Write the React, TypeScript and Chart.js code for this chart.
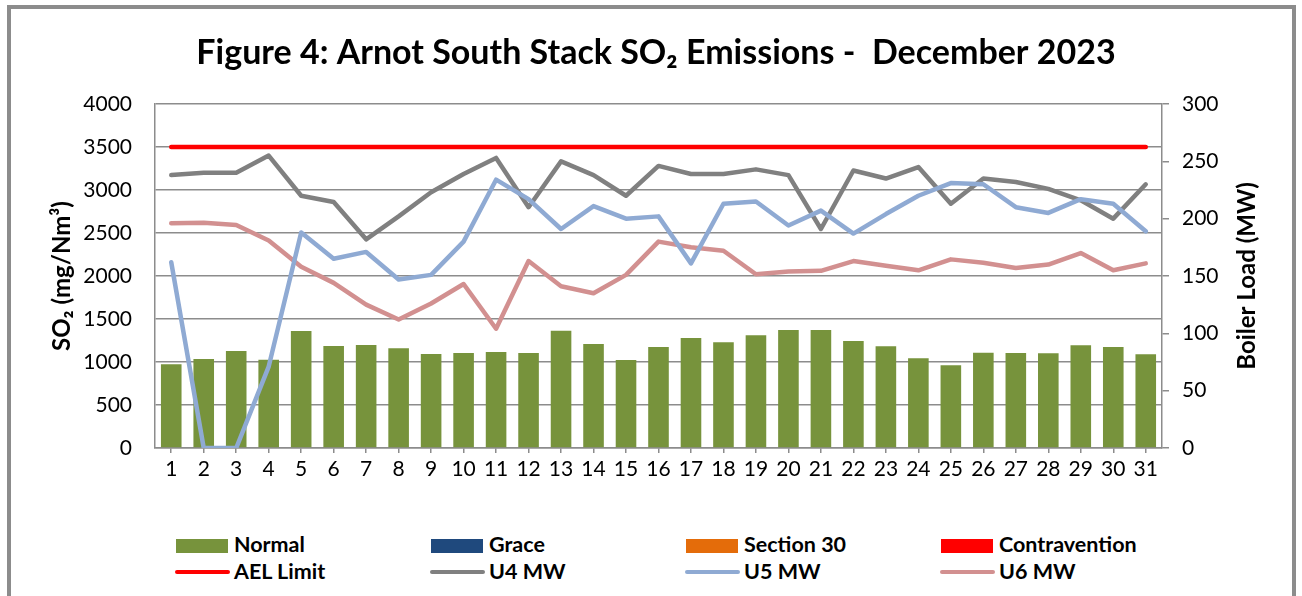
import React, { useEffect, useRef } from "react";
import { Chart, registerables } from "chart.js";

Chart.register(...registerables);

const TITLE = "Figure 4: Arnot South Stack SO\u2082 Emissions -  December 2023";
const Y_LEFT_TITLE = "SO\u2082 (mg/Nm\u00B3)";
const Y_RIGHT_TITLE = "Boiler Load (MW)";

const days = [
  "1", "2", "3", "4", "5", "6", "7", "8", "9", "10", "11", "12", "13", "14", "15", "16",
  "17", "18", "19", "20", "21", "22", "23", "24", "25", "26", "27", "28", "29", "30", "31",
];

// SO2 emissions (mg/Nm3), left axis
const normal = [
  973, 1035, 1128, 1027, 1360, 1186, 1198, 1159, 1093, 1105, 1116, 1105, 1364, 1209, 1023, 1174,
  1279, 1229, 1310, 1372, 1372, 1244, 1182, 1043, 961, 1109, 1105, 1101, 1194, 1174, 1089,
];
const grace: (number | null)[] = [];
const section30: (number | null)[] = [];
const contravention: (number | null)[] = [];

const aelLimit = [
  3500, 3500, 3500, 3500, 3500, 3500, 3500, 3500, 3500, 3500, 3500, 3500, 3500, 3500, 3500, 3500,
  3500, 3500, 3500, 3500, 3500, 3500, 3500, 3500, 3500, 3500, 3500, 3500, 3500, 3500, 3500,
];

// Boiler load (MW), right axis
const u4 = [
  238, 240, 240, 255, 220, 214.5, 182, 202, 223, 239, 253, 210, 250, 238, 220, 246,
  239, 239, 243, 238, 191, 242, 235, 245, 213, 235, 232, 226, 216, 200, 230,
];
const u5 = [
  162, 0, 0, 71, 188, 165, 171, 147, 151, 180, 234, 217, 191, 211, 200, 202,
  161, 213, 215, 194, 207, 187, 204, 220, 231, 230, 210, 205, 217, 213, 189,
];
const u6 = [
  196, 196.5, 194.5, 181, 158, 144, 125, 112, 126, 143, 104, 163, 141, 135, 151, 180,
  175, 172, 151.5, 154, 154.5, 163, 159, 155, 164.5, 161.5, 157, 160, 170, 155, 161,
];

const C_NORMAL = "#77933C";
const C_GRACE = "#1F497D";
const C_S30 = "#E46C0A";
const C_CONTRA = "#FF0000";
const C_AEL = "#FF0000";
const C_U4 = "#808080";
const C_U5 = "#8FAAD3";
const C_U6 = "#D29090";
const GRID = "#8c8c8c";
const FONT = "Lato";

const legendItems = [
  { label: "Normal", color: C_NORMAL, kind: "box", col: 0, row: 0 },
  { label: "Grace", color: C_GRACE, kind: "box", col: 1, row: 0 },
  { label: "Section 30", color: C_S30, kind: "box", col: 2, row: 0 },
  { label: "Contravention", color: C_CONTRA, kind: "box", col: 3, row: 0 },
  { label: "AEL Limit", color: C_AEL, kind: "line", col: 0, row: 1 },
  { label: "U4 MW", color: C_U4, kind: "line", col: 1, row: 1 },
  { label: "U5 MW", color: C_U5, kind: "line", col: 2, row: 1 },
  { label: "U6 MW", color: C_U6, kind: "line", col: 3, row: 1 },
];
const legendColX = [176, 431, 686, 941];

const rightTitlePlugin = {
  id: "rightTitle",
  afterDraw(chart: any) {
    const { ctx, chartArea } = chart;
    ctx.save();
    ctx.font = `bold 24px ${FONT}`;
    ctx.fillStyle = "#000";
    ctx.textAlign = "center";
    ctx.textBaseline = "middle";
    ctx.translate(1247, (chartArea.top + chartArea.bottom) / 2);
    ctx.rotate(-Math.PI / 2);
    ctx.fillText(Y_RIGHT_TITLE, 0, 0);
    ctx.restore();
  },
};

export default function App() {
  const ref = useRef<HTMLCanvasElement>(null);

  useEffect(() => {
    const lineDs = (label: string, data: number[], color: string, axis: string, order: number) => ({
      type: "line" as const,
      label,
      data,
      yAxisID: axis,
      borderColor: color,
      backgroundColor: color,
      borderWidth: 4.5,
      pointRadius: 0,
      pointHoverRadius: 0,
      tension: 0,
      fill: false,
      borderCapStyle: "round" as const,
      borderJoinStyle: "round" as const,
      order,
    });
    const barDs = (label: string, data: (number | null)[], color: string) => ({
      type: "bar" as const,
      label,
      data,
      yAxisID: "y",
      backgroundColor: color,
      borderWidth: 0,
      grouped: false,
      categoryPercentage: 1,
      barPercentage: 0.634,
      order: 10,
    });

    const chart = new Chart(ref.current!, {
      type: "bar",
      data: {
        labels: days,
        datasets: [
          barDs("Normal", normal, C_NORMAL),
          barDs("Grace", grace, C_GRACE),
          barDs("Section 30", section30, C_S30),
          barDs("Contravention", contravention, C_CONTRA),
          lineDs("AEL Limit", aelLimit, C_AEL, "y", 1),
          lineDs("U4 MW", u4, C_U4, "y1", 3),
          lineDs("U5 MW", u5, C_U5, "y1", 2),
          lineDs("U6 MW", u6, C_U6, "y1", 4),
        ] as any,
      },
      options: {
        responsive: false,
        maintainAspectRatio: false,
        animation: false,
        events: [],
        layout: { padding: { left: 40, right: 30, top: 0, bottom: 0 } },
        plugins: {
          legend: { display: false },
          tooltip: { enabled: false },
          title: {
            display: true,
            text: TITLE,
            color: "#000",
            font: { family: FONT, size: 34, weight: "bold" },
            padding: { top: 32.6, bottom: 30.6 },
          },
        },
        scales: {
          x: {
            offset: true,
            grid: {
              offset: false,
              drawOnChartArea: false,
              drawTicks: true,
              tickLength: 5,
              color: GRID,
              lineWidth: 1.5,
            },
            border: { color: GRID, width: 1.5 },
            ticks: {
              color: "#000",
              font: { family: FONT, size: 21 },
              padding: 4,
              maxRotation: 0,
              autoSkip: false,
            },
            afterFit: (s: any) => {
              s.height = 52;
            },
          },
          y: {
            position: "left",
            min: 0,
            max: 4000,
            ticks: {
              stepSize: 500,
              color: "#000",
              font: { family: FONT, size: 21 },
              padding: 23,
              callback: (v: any) => String(v),
            },
            grid: { color: GRID, lineWidth: 1.5, drawTicks: false },
            border: { color: GRID, width: 1.5 },
            title: {
              display: true,
              text: Y_LEFT_TITLE,
              color: "#000",
              font: { family: FONT, size: 24, weight: "bold" },
              padding: { top: 8, bottom: 0 },
            },
            afterFit: (s: any) => {
              s.width = 115;
            },
          },
          y1: {
            position: "right",
            min: 0,
            max: 300,
            ticks: {
              stepSize: 50,
              color: "#000",
              font: { family: FONT, size: 21 },
              padding: 13,
              callback: (v: any) => String(v),
            },
            grid: {
              drawOnChartArea: false,
              drawTicks: true,
              tickLength: 7,
              color: GRID,
              lineWidth: 1.5,
            },
            border: { color: GRID, width: 1.5 },
            afterFit: (s: any) => {
              s.width = 110;
            },
          },
        },
      } as any,
      plugins: [rightTitlePlugin],
    });
    return () => chart.destroy();
  }, []);

  return (
    <div
      style={{
        position: "fixed",
        left: 0,
        top: 0,
        width: 1302,
        height: 596,
        background: "#fff",
        overflow: "hidden",
      }}
    >
      <div
        style={{
          position: "absolute",
          left: 7,
          top: 5,
          width: 1290 - 9,
          height: 640,
          border: "4.5px solid #8c8c8c",
          boxSizing: "content-box",
        }}
      />
      <canvas
        ref={ref}
        width={1302}
        height={500}
        style={{ position: "absolute", left: 0, top: 0, width: 1302, height: 500 }}
      />
      {legendItems.map((it) => {
        const x = legendColX[it.col];
        const rowBoxTop = it.row === 0 ? 539 : 570;
        const textTop = it.row === 0 ? 531.6 : 558.6;
        return (
          <React.Fragment key={it.label}>
            {it.kind === "box" ? (
              <div
                style={{
                  position: "absolute",
                  left: x,
                  top: rowBoxTop,
                  width: 52,
                  height: 14,
                  background: it.color,
                }}
              />
            ) : (
              <div
                style={{
                  position: "absolute",
                  left: x - 1,
                  top: rowBoxTop,
                  width: 55,
                  height: 4,
                  borderRadius: 2,
                  background: it.color,
                }}
              />
            )}
            <div
              style={{
                position: "absolute",
                left: x + 58,
                top: textTop,
                fontFamily: FONT,
                fontWeight: "bold",
                fontSize: 21.5,
                lineHeight: 1.2,
                color: "#000",
                whiteSpace: "pre",
              }}
            >
              {it.label}
            </div>
          </React.Fragment>
        );
      })}
    </div>
  );
}
